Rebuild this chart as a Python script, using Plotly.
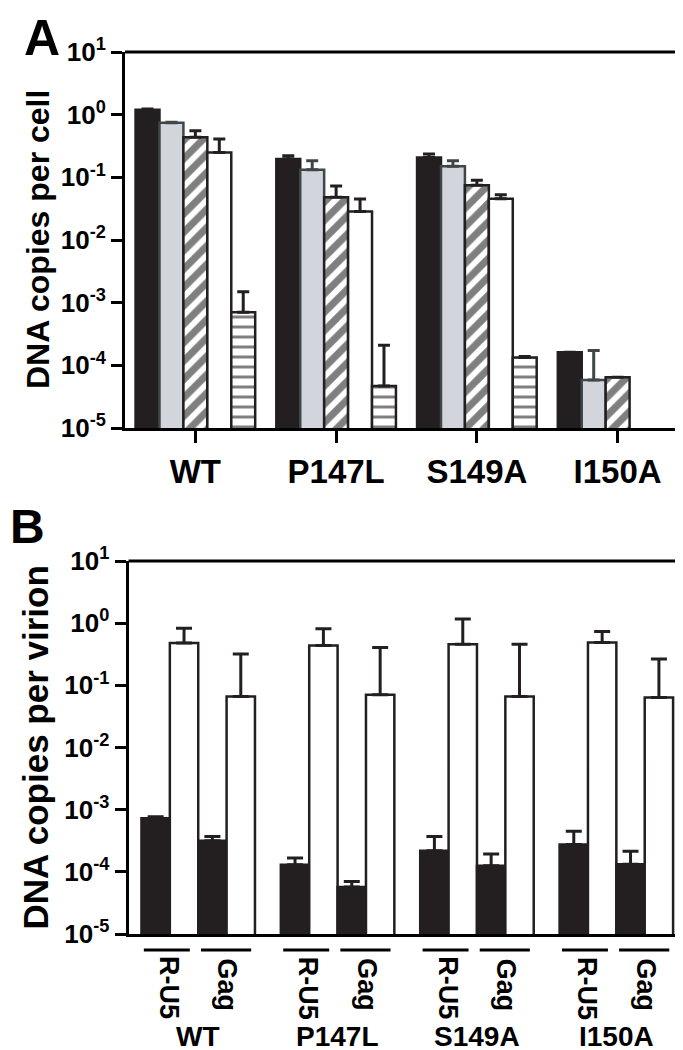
import plotly.graph_objects as go

# ---------------- data ----------------
groups = ["WT", "P147L", "S149A", "I150A"]

# Panel A: DNA copies per cell (five series per mutant)
a_solid = [1.2, 0.196, 0.208, 1.62e-4]
a_solid_hi = [1.23, 0.221, 0.236, None]
a_grey = [0.74, 0.132, 0.150, 5.85e-5]
a_grey_hi = [0.76, 0.184, 0.184, 1.72e-4]
a_hatch = [0.435, 0.048, 0.0745, 6.46e-5]
a_hatch_hi = [0.556, 0.073, 0.0895, None]
a_open = [0.25, 0.0286, 0.0457, None]
a_open_hi = [0.41, 0.045, 0.0527, None]
a_lines = [7.0e-4, 4.7e-5, 1.33e-4, None]
a_lines_hi = [1.5e-3, 2.1e-4, 1.38e-4, None]

# Panel B: DNA copies per virion (R-U5 and Gag, black and white)
b_ru5_black = [7.3e-4, 1.3e-4, 2.19e-4, 2.74e-4]
b_ru5_black_hi = [7.7e-4, 1.67e-4, 3.7e-4, 4.5e-4]
b_ru5_white = [0.478, 0.437, 0.46, 0.49]
b_ru5_white_hi = [0.83, 0.81, 1.17, 0.735]
b_gag_black = [3.17e-4, 5.7e-5, 1.25e-4, 1.33e-4]
b_gag_black_hi = [3.7e-4, 7.0e-5, 1.94e-4, 2.14e-4]
b_gag_white = [0.066, 0.0705, 0.066, 0.064]
b_gag_white_hi = [0.318, 0.407, 0.46, 0.264]

sub_labels = ["R-U5", "Gag"]
tick_vals = [1e-5, 1e-4, 1e-3, 1e-2, 1e-1, 1e0, 1e1]
tick_text = ["10<sup>-5</sup>", "10<sup>-4</sup>", "10<sup>-3</sup>", "10<sup>-2</sup>",
             "10<sup>-1</sup>", "10<sup>0</sup>", "10<sup>1</sup>"]

# ---------------- style ----------------
FONT = "Liberation Sans, Arial, Helvetica, sans-serif"
BLACK = "#231f20"
W, H = 683, 1050


def up_err(vals, hi):
    out = []
    for v, h in zip(vals, hi):
        if v is None or h is None:
            out.append(None)
        else:
            out.append(h - v)
    return out


fig = go.Figure()

# Panel A bars
bw_a = 0.17
start_a = -0.425
specs_a = [
    (a_solid, a_solid_hi, dict(color=BLACK, line=dict(color=BLACK, width=2.5)), BLACK),
    (a_grey, a_grey_hi, dict(color="#d2d6dc", line=dict(color="#3d4747", width=2.5)), "#3d4747"),
    (a_hatch, a_hatch_hi, dict(color="white", line=dict(color=BLACK, width=2.5),
                               pattern=dict(shape="/", fgcolor="black", bgcolor="white", size=13, solidity=0.55)), BLACK),
    (a_open, a_open_hi, dict(color="white", line=dict(color=BLACK, width=2.5)), BLACK),
    (a_lines, a_lines_hi, dict(color="white", line=dict(color=BLACK, width=2.5),
                               pattern=dict(shape="-", fgcolor="black", bgcolor="white", size=10, solidity=0.3)), BLACK),
]
for i, (vals, hi, marker, ecol) in enumerate(specs_a):
    fig.add_trace(go.Bar(
        x=groups, y=vals, width=bw_a, offset=start_a + i * bw_a,
        marker=marker, xaxis="x", yaxis="y", showlegend=False,
        error_y=dict(type="data", symmetric=False, array=up_err(vals, hi),
                     arrayminus=[0] * len(vals), color=ecol, thickness=3, width=6),
    ))

# Panel B bars
bw_b = 0.2036
start_b = -0.407
specs_b = [
    (b_ru5_black, b_ru5_black_hi, BLACK),
    (b_ru5_white, b_ru5_white_hi, "white"),
    (b_gag_black, b_gag_black_hi, BLACK),
    (b_gag_white, b_gag_white_hi, "white"),
]
for i, (vals, hi, col) in enumerate(specs_b):
    fig.add_trace(go.Bar(
        x=groups, y=vals, width=bw_b, offset=start_b + i * bw_b,
        marker=dict(color=col, line=dict(color=BLACK, width=2.5)),
        xaxis="x2", yaxis="y2", showlegend=False,
        error_y=dict(type="data", symmetric=False, array=up_err(vals, hi),
                     arrayminus=[0] * len(vals), color=BLACK, thickness=3, width=8),
    ))

# ---------------- layout ----------------
xa_dom = [117 / W, 680 / W]
ya_dom = [1 - 420 / H, 1 - 44 / H]
xb_dom = [120.5 / W, 678 / W]
yb_dom = [1 - 926 / H, 1 - 553 / H]

yaxis_common = dict(type="log", range=[-5, 1], tickvals=tick_vals, ticktext=tick_text,
                    showline=True, linewidth=3, linecolor="black", ticks="outside",
                    ticklen=11, tickwidth=3, tickcolor="black", showgrid=False,
                    zeroline=False, automargin=False,
                    tickfont=dict(family=FONT, size=26, color="black", weight="bold"))

fig.update_layout(
    width=W, height=H, autosize=False,
    margin=dict(l=0, r=0, t=0, b=0),
    paper_bgcolor="white", plot_bgcolor="white",
    showlegend=False, barmode="group",
    font=dict(family=FONT, color="black"),
    xaxis=dict(domain=xa_dom, anchor="y", type="category", range=[-0.5, 3.5],
               showline=True, linewidth=3, linecolor="black", ticks="outside",
               ticklen=12, tickwidth=3, tickcolor="black", showgrid=False,
               zeroline=False, automargin=False,
               tickfont=dict(family=FONT, size=33, color="black", weight="bold")),
    yaxis=dict(domain=ya_dom, anchor="x", **yaxis_common),
    xaxis2=dict(domain=xb_dom, anchor="y2", type="category", range=[-0.5, 3.5],
                showline=True, linewidth=3, linecolor="black", ticks="",
                showticklabels=False, showgrid=False, zeroline=False, automargin=False),
    yaxis2=dict(domain=yb_dom, anchor="x2", **yaxis_common),
)

shapes = []
for xr, yr in (("x domain", "y domain"), ("x2 domain", "y2 domain")):
    shapes.append(dict(type="line", xref=xr, yref=yr, x0=0, x1=1, y0=1, y1=1,
                       line=dict(color="black", width=3)))
    shapes.append(dict(type="line", xref=xr, yref=yr, x0=1, x1=1, y0=0, y1=1,
                       line=dict(color="#444", width=1.5)))

annotations = []
# Panel letters
annotations.append(dict(text="<b>A</b>", x=14 / W, y=1, xref="paper", yref="paper",
                        showarrow=False, font=dict(family=FONT, size=50, color="black"),
                        xanchor="left", yanchor="top"))
annotations.append(dict(text="<b>B</b>", x=0, y=1 - 490 / H, xref="paper", yref="paper",
                        showarrow=False, font=dict(family=FONT, size=48, color="black"),
                        xanchor="left", yanchor="top"))
# Y titles
annotations.append(dict(text="<b>DNA copies per cell</b>", x=30 / W, y=sum(ya_dom) / 2,
                        xref="paper", yref="paper", textangle=-90, showarrow=False,
                        font=dict(family=FONT, size=32, color="black"),
                        xanchor="center", yanchor="middle"))
annotations.append(dict(text="<b>DNA copies per virion</b>", x=27 / W, y=sum(yb_dom) / 2,
                        xref="paper", yref="paper", textangle=-90, showarrow=False,
                        font=dict(family=FONT, size=35, color="black"),
                        xanchor="center", yanchor="middle"))

# Panel B sub-labels and group labels
line_y = 1 - 942 / H
sub_pos = [(-0.39, -0.06, -0.21), (0.02, 0.38, 0.21)]
sub_y = [1 - 980 / H, 1 - 977 / H]
for gi, g in enumerate(groups):
    for si, lab in enumerate(sub_labels):
        a0, a1, tx = sub_pos[si]
        shapes.append(dict(type="line", xref="x2", yref="paper", x0=gi + a0, x1=gi + a1,
                           y0=line_y, y1=line_y, line=dict(color="black", width=3)))
        annotations.append(dict(text="<b>" + lab + "</b>", x=gi + tx, y=sub_y[si],
                                xref="x2", yref="paper", textangle=90, showarrow=False,
                                font=dict(family=FONT, size=27, color="black"),
                                xanchor="center", yanchor="middle"))
    annotations.append(dict(text="<b>" + g + "</b>", x=gi, y=1 - 1028 / H,
                            xref="x2", yref="paper", showarrow=False,
                            font=dict(family=FONT, size=28, color="black"),
                            xanchor="center", yanchor="middle"))

fig.update_layout(shapes=shapes, annotations=annotations)
fig.write_html("out.html")
